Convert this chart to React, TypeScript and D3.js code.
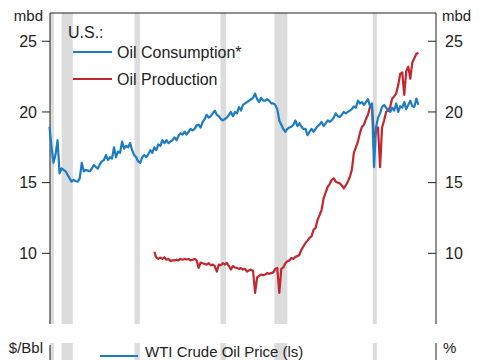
import React from "react";
import * as d3 from "d3";

// quarterly readings, first value = Q1 of start year
const consumptionStart = 1980;
const consumption = [
  18.95, 17.5, 16.4, 17.0,
  18.0, 15.65, 16.0, 15.9,
  15.8, 15.55, 15.3, 15.07,
  15.2, 15.1, 15.07, 15.3,
  16.4, 15.8, 15.9, 15.85,
  15.8, 16.0, 16.25, 16.1,
  16.0, 16.3, 16.5, 16.6,
  16.95, 16.6, 16.8, 16.7,
  17.5, 16.8, 17.2, 17.1,
  17.9, 17.4, 17.6, 17.5,
  17.8, 17.3, 16.95, 16.8,
  16.5, 16.4, 16.8, 16.95,
  16.8, 17.0, 17.3, 17.1,
  17.5, 17.3, 17.7, 17.6,
  18.0, 17.8, 18.0, 17.8,
  17.9, 18.0, 18.2, 18.0,
  18.3, 18.5, 18.4, 18.6,
  18.4, 18.6, 18.8, 18.7,
  18.8, 19.05, 19.1, 18.9,
  19.3, 19.5, 19.8, 19.6,
  19.7, 19.9, 20.1, 19.8,
  19.7, 19.5, 19.4, 19.5,
  19.6, 19.8, 20.0, 19.7,
  20.0, 19.9, 20.35, 20.1,
  20.5, 20.6, 20.7, 20.8,
  20.9, 21.0, 21.3, 20.9,
  20.7, 21.0, 20.8, 20.8,
  20.9, 20.8, 20.6, 20.6,
  20.5, 20.2, 19.4, 19.1,
  18.8, 18.6, 18.8, 18.9,
  18.95, 19.1, 19.4, 19.0,
  19.2, 18.95, 18.8, 18.8,
  18.35, 18.6, 18.8, 18.6,
  18.8, 19.0, 19.1, 19.3,
  19.0, 19.2, 19.4, 19.3,
  19.4, 19.6, 19.9, 19.7,
  19.65, 19.8, 20.0, 19.9,
  20.0, 20.1, 20.2, 20.4,
  20.3, 20.8, 20.6, 20.7,
  20.5, 20.7, 20.9, 20.4,
  20.6, 16.1, 18.9, 19.6,
  19.9, 20.35, 20.5, 20.3,
  20.1, 20.0, 20.3, 20.1,
  20.6, 20.0, 20.4, 20.3,
  20.7, 20.2, 20.5, 20.8,
  20.4, 20.35, 20.95, 20.5,
];

const productionStart = 1993;
const production = [
  10.1, 9.7, 9.6, 9.7,
  9.6, 9.72, 9.55, 9.6,
  9.45, 9.5, 9.5, 9.55,
  9.5, 9.6, 9.55, 9.6,
  9.56, 9.6, 9.5, 9.55,
  9.6, 9.5, 8.97, 9.35,
  9.3, 9.25, 9.2, 9.3,
  9.15, 9.2, 9.1, 8.7,
  9.2, 9.15, 9.3, 9.2,
  9.32, 9.1, 8.85, 9.1,
  9.0, 8.97, 8.9, 8.95,
  8.85, 8.9, 8.7, 8.8,
  8.85, 8.75, 7.2, 8.3,
  8.4, 8.5, 8.45, 8.5,
  8.6, 8.55, 8.6, 8.65,
  8.9, 8.97, 7.2, 8.9,
  9.0, 9.3, 9.44, 9.5,
  9.67, 9.6, 9.75, 9.8,
  9.9, 10.26, 10.5, 10.73,
  10.9, 11.1, 11.2, 11.67,
  11.8, 12.37, 12.7, 13.08,
  13.9, 14.3, 14.7, 14.9,
  15.2, 15.3, 15.07, 15.0,
  14.95, 14.8, 14.6, 14.8,
  15.07, 15.4, 15.9, 17.1,
  17.5, 17.9, 18.5, 18.95,
  19.1, 19.5, 19.8, 20.35,
  20.35, 18.2, 18.6, 18.9,
  16.1, 18.9, 19.4, 20.0,
  20.1, 20.35, 20.95, 21.1,
  21.3, 21.9, 22.7, 22.8,
  21.2, 22.9, 23.2, 22.35,
  23.5, 23.8, 24.1, 24.2,
];

const recessions = [
  [1980.0, 1980.55],
  [1981.5, 1982.9],
  [1990.55, 1991.2],
  [2001.2, 2001.9],
  [2007.9, 2009.5],
  [2020.1, 2020.6],
];

const yTicks = [10, 15, 20, 25];

const BLUE = "#1c7cc3";
const RED = "#c1272d";
const GRAY = "#dcdcdc";
const INK = "#222";
const FONT = "'Liberation Sans', Arial, sans-serif";

const toPoints = (start: number, vals: number[]) =>
  vals.map((v, i) => ({ t: start + i / 4, v }));

const W = 485;
const H = 360;
const left = 50;
const right = 436;
const top = 13;
const bottom = 324;
const panel2Top = 343;

export default function App() {
  const x = d3.scaleLinear().domain([1980, 2028]).range([left - 0.5, right + 0.5]);
  const y = d3.scaleLinear().domain([5, 27]).range([bottom, top]);

  const line = d3
    .line<{ t: number; v: number }>()
    .x((d) => x(d.t))
    .y((d) => y(d.v));

  const consPath = line(toPoints(consumptionStart, consumption)) || "";
  const prodPath = line(toPoints(productionStart, production)) || "";

  return (
    <svg
      width={W}
      height={H}
      style={{ position: "fixed", left: 0, top: 0, background: "#fff" }}
      fontFamily={FONT}
    >
      <rect x={0} y={0} width={W} height={H} fill="#fff" />

      {/* recession shading, both panels */}
      {recessions.map(([a, b], i) => (
        <g key={i}>
          <rect x={x(a)} y={top} width={x(b) - x(a)} height={bottom - top} fill={GRAY} />
          <rect x={x(a)} y={panel2Top} width={x(b) - x(a)} height={H - panel2Top} fill={GRAY} />
        </g>
      ))}

      {/* frame of top panel */}
      <line x1={left} x2={right} y1={top} y2={top} stroke={INK} strokeWidth={1} />
      <line x1={left} x2={left} y1={top} y2={bottom} stroke={INK} strokeWidth={1} />
      <line x1={right} x2={right} y1={top} y2={bottom} stroke={INK} strokeWidth={1} />

      {yTicks.map((t) => (
        <g key={t}>
          <line x1={left - 8} x2={left} y1={y(t)} y2={y(t)} stroke={INK} />
          <text x={left - 13} y={y(t)} dy="0.36em" textAnchor="end" fontSize={16} fill={INK}>
            {t}
          </text>
          <line x1={right - 8} x2={right} y1={y(t)} y2={y(t)} stroke={INK} />
          <text x={right + 9} y={y(t)} dy="0.36em" fontSize={16} fill={INK}>
            {t}
          </text>
        </g>
      ))}

      <text x={43} y={21} textAnchor="end" fontSize={15} fill={INK}>mbd</text>
      <text x={442} y={21} fontSize={15} fill={INK}>mbd</text>

      <path d={prodPath} fill="none" stroke={RED} strokeWidth={2.2} strokeLinejoin="round" />
      <path d={consPath} fill="none" stroke={BLUE} strokeWidth={2.2} strokeLinejoin="round" />

      {/* legend */}
      <text x={68} y={38} fontSize={16} fill={INK}>U.S.:</text>
      <line x1={73} x2={112} y1={52} y2={52} stroke={BLUE} strokeWidth={2.2} />
      <text x={117} y={52} dy="0.36em" fontSize={16} fill={INK}>Oil Consumption*</text>
      <line x1={73} x2={112} y1={79} y2={79} stroke={RED} strokeWidth={2.2} />
      <text x={117} y={79} dy="0.36em" fontSize={16} fill={INK}>Oil Production</text>

      {/* second panel, cut by the frame */}
      <line x1={left} x2={left} y1={345} y2={H} stroke={INK} />
      <line x1={right} x2={right} y1={panel2Top} y2={H} stroke={INK} />
      <text x={43} y={353} textAnchor="end" fontSize={15} fill={INK}>$/Bbl</text>
      <text x={443} y={353} fontSize={15} fill={INK}>%</text>
      <line x1={100} x2={138} y1={356} y2={356} stroke={BLUE} strokeWidth={2.2} />
      <text x={145} y={357} fontSize={15} fill={INK}>WTI Crude Oil Price (ls)</text>
    </svg>
  );
}
